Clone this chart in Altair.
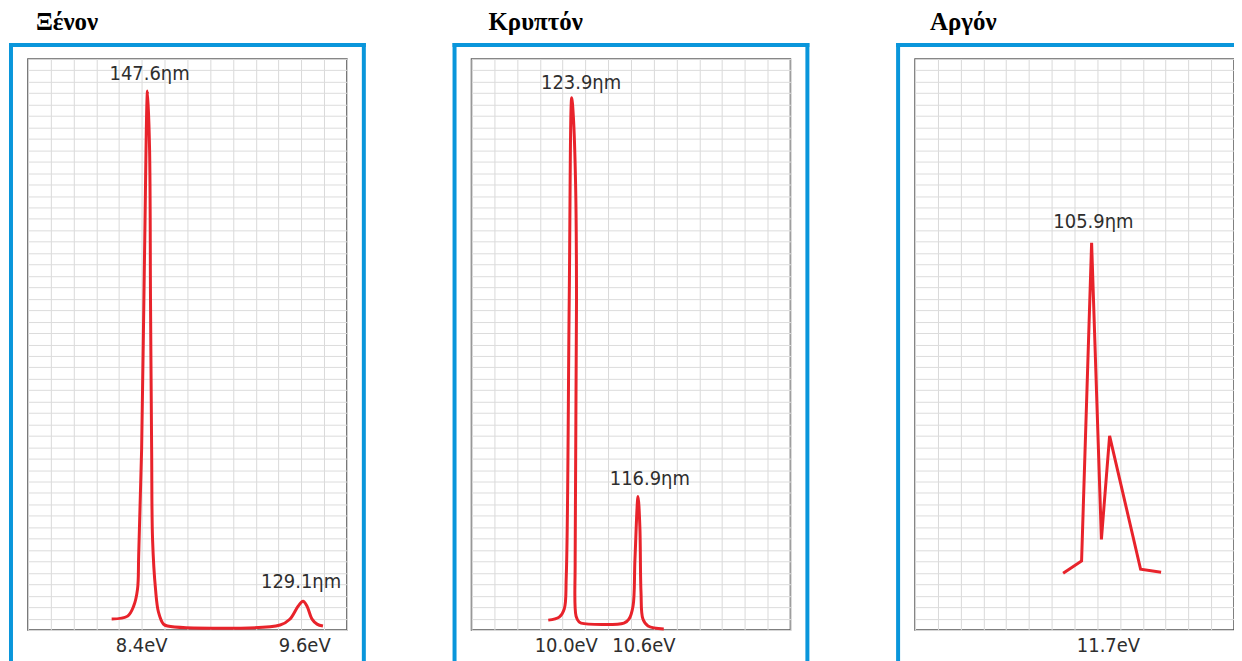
import altair as alt
import pandas as pd

# ---- data (grid units: x 0..14 columns, y 0..50 rows) ----
xe_x = [3.675, 4.375, 4.64, 4.81, 4.86, 4.99, 5.12, 5.25, 5.34, 5.38, 5.43, 5.47, 5.6, 5.73, 5.95, 6.125,
        11.07, 11.5, 11.86, 12.075, 12.25, 12.47, 12.69, 12.95]
xe_y = [0.96, 1.22, 2.09, 3.58, 6.46, 15.8, 33.2, 47.2, 42.0, 28.9, 15.8, 7.94, 3.58, 1.57, 0.52, 0.35,
        0.44, 0.96, 2.09, 2.53, 2.09, 0.96, 0.52, 0.35]
xe_ann_text = ["147.6ηm", "129.1ηm"]
xe_ann_x = [5.34, 11.99]
xe_ann_y = [48.7, 4.19]
xe_tick_text = ["8.4eV", "9.6eV"]
xe_tick_x = [4.99, 12.15]

kr_x = [3.37, 3.85, 4.07, 4.16, 4.29, 4.40, 4.47, 4.57, 4.61, 4.55, 4.59, 4.725, 4.81,
        6.69, 6.91, 7.09, 7.175, 7.31, 7.39, 7.44, 7.525, 7.75, 8.44]
kr_y = [0.87, 1.13, 1.83, 4.71, 28.9, 46.6, 45.0, 39.0, 28.9, 6.2, 1.22, 0.70, 0.61,
        0.61, 0.96, 2.09, 6.2, 11.69, 9.07, 3.32, 0.96, 0.35, 0.09]
kr_ann_text = ["123.9ηm", "116.9ηm"]
kr_ann_x = [4.81, 7.83]
kr_ann_y = [47.9, 13.2]
kr_tick_text = ["10.0eV", "10.6eV"]
kr_tick_x = [4.16, 7.57]

ar_x = [6.5, 7.31, 7.75, 8.18, 8.54, 9.9, 10.8]
ar_y = [4.97, 6.05, 33.9, 7.94, 17.0, 5.32, 5.06]
ar_ann_text = ["105.9ηm"]
ar_ann_x = [7.83]
ar_ann_y = [35.7]
ar_tick_text = ["11.7eV"]
ar_tick_x = [8.49]

titles = ["Ξένον", "Κρυπτόν", "Αργόν"]
grid_x = list(range(15))
grid_y = list(range(51))

# ---- style ----
W, H = 320, 573
BLUE = "#0a96db"
RED = "#e8232b"
TXT = "#2e2e2e"
SANS = "DejaVu Sans Condensed, Roboto, sans-serif"
SERIF = "Liberation Serif, Times New Roman, serif"

xscale = alt.Scale(domain=[0, 14], nice=False, zero=False)
yscale = alt.Scale(domain=[0, 50], nice=False, zero=False)
xaxis = alt.Axis(values=grid_x, grid=True, labels=False, ticks=False, domain=False, title=None,
                 gridColor="#d9d9d9", gridWidth=1)
yaxis = alt.Axis(values=grid_y, grid=True, labels=False, ticks=False, domain=False, title=None,
                 gridColor="#dcdcdc", gridWidth=1)


def frame(right_side):
    # filled strips (no stroke) so that the layout bounds are exact
    base = alt.Chart(alt.Data(values=[{"a": 1}]))
    parts = [
        base.mark_rect(fill=BLUE, strokeWidth=0).encode(
            x=alt.value(-19), x2=alt.value(-15), y=alt.value(-16), y2=alt.value(H + 40)),
        base.mark_rect(fill=BLUE, strokeWidth=0).encode(
            x=alt.value(-19), x2=alt.value(W + 19 if right_side else W + 1), y=alt.value(-16), y2=alt.value(-12)),
    ]
    if right_side:
        parts.append(base.mark_rect(fill=BLUE, strokeWidth=0).encode(
            x=alt.value(W + 15), x2=alt.value(W + 19), y=alt.value(-16), y2=alt.value(H + 40)))
    return parts


def panel(title, dx, xs, ys, ann_t, ann_x, ann_y, tick_t, tick_x, interp, right_side=True):
    line_df = pd.DataFrame({"x": xs, "y": ys, "i": list(range(len(xs)))})
    ann_df = pd.DataFrame({"t": ann_t, "x": ann_x, "y": ann_y})
    tick_df = pd.DataFrame({"t": tick_t, "x": tick_x})

    line = alt.Chart(line_df).mark_line(color=RED, strokeWidth=3, interpolate=interp).encode(
        x=alt.X("x:Q", scale=xscale, axis=xaxis),
        y=alt.Y("y:Q", scale=yscale, axis=yaxis),
        order="i:Q",
    )
    ann = alt.Chart(ann_df).mark_text(font=SANS, fontSize=20, color=TXT, baseline="middle", align="center").encode(
        x=alt.X("x:Q", scale=xscale, axis=xaxis),
        y=alt.Y("y:Q", scale=yscale, axis=yaxis),
        text="t:N",
    )
    ticks = alt.Chart(tick_df).mark_text(font=SANS, fontSize=20, color=TXT, baseline="middle", align="center").encode(
        x=alt.X("x:Q", scale=xscale, axis=xaxis),
        y=alt.value(H + 16),
        text="t:N",
    )
    return alt.layer(line, *frame(right_side), ann, ticks).properties(
        width=W, height=H,
        title=alt.TitleParams(title, anchor="start", dx=dx, font=SERIF, fontSize=25, fontWeight="bold",
                              color="#000000", baseline="alphabetic", offset=-12),
    )


p1 = panel(titles[0], 27, xe_x, xe_y, xe_ann_text, xe_ann_x, xe_ann_y, xe_tick_text, xe_tick_x, "catmull-rom")
p2 = panel(titles[1], 36, kr_x, kr_y, kr_ann_text, kr_ann_x, kr_ann_y, kr_tick_text, kr_tick_x, "catmull-rom")
p3 = panel(titles[2], 34, ar_x, ar_y, ar_ann_text, ar_ann_x, ar_ann_y, ar_tick_text, ar_tick_x, "linear",
           right_side=False)

chart = alt.hconcat(p1, p2, p3, spacing=85).configure_view(
    stroke="#555555", strokeWidth=1.5
).properties(background="white", padding={"left": 0, "top": 0, "right": -2, "bottom": 0})

chart.save("out.html", embed_options={"renderer": "svg", "actions": False})
